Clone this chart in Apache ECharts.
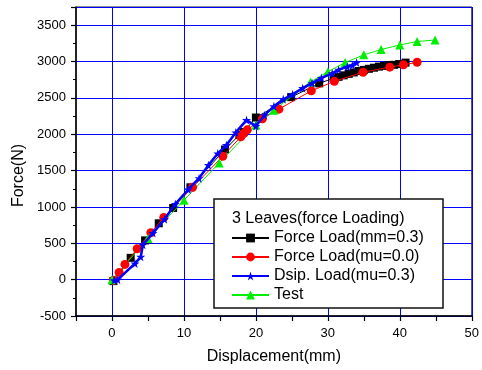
<!DOCTYPE html>
<html>
<head>
<meta charset="utf-8">
<script src="https://cdn.jsdelivr.net/npm/echarts@6/dist/echarts.min.js"></script>
<style>html,body{margin:0;padding:0;background:#fff}#c{width:482px;height:370px}</style>
</head>
<body>
<div id="c"></div>
<script>
const xTitle = 'Displacement(mm)';
const yTitle = 'Force(N)';
const legendTitle = '3 Leaves(force Loading)';
const seriesNames = ['Force Load(mm=0.3)', 'Force Load(mu=0.0)', 'Dsip. Load(mu=0.3)', 'Test'];

const forceLoadMm03 = [
  [0.2,-20],[2.6,300],[4.6,540],[6.5,775],[8.5,985],[10.9,1270],[15.7,1790],[17.7,1990],
  [18.3,2030],[20.0,2230],[24.9,2510],[28.8,2700],[30.8,2770],[31.5,2790],[32.2,2810],
  [32.9,2830],[33.6,2850],[34.3,2870],[35.0,2885],[35.7,2900],[36.4,2915],[37.1,2930],
  [37.8,2940],[38.5,2950],[39.2,2955],[39.9,2965],[40.8,2985]
];
const forceLoadMu00 = [
  [0.2,-10],[1.0,100],[1.8,210],[3.5,425],[5.4,645],[7.2,855],[11.2,1270],[15.4,1697],
  [17.9,1965],[18.3,2010],[18.8,2060],[20.9,2212],[23.2,2345],[27.7,2597],[30.9,2728],
  [34.9,2853],[38.6,2923],[40.5,2955],[42.4,2990]
];
const dsipLoadMu03 = [
  [0.3,-10],[0.8,0],[3.2,222],[4.0,314],[4.3,480],[5.7,640],[7.3,830],[8.8,1040],[10.6,1240],
  [12.1,1395],[13.4,1575],[14.7,1735],[15.9,1850],[17.2,2025],[18.7,2195],[20.0,2112],
  [21.2,2262],[22.5,2384],[23.8,2480],[25.1,2548],[26.5,2634],[27.8,2702],[29.1,2774],
  [30.6,2838],[31.5,2888],[32.7,2928],[33.4,2950],[34.0,2985]
];
const testData = [
  [0,0],[5.0,565],[10,1092],[14.9,1605],[20,2126],[22.5,2330],[27.6,2720],[30.0,2860],
  [32.4,2985],[35.0,3092],[37.4,3165],[40.0,3228],[42.4,3275],[44.9,3296]
];

const FONT = 'Liberation Sans, Arial, sans-serif';
const STAR = 'path://M50,0 L61,35 L98,35 L68,57 L79,91 L50,70 L21,91 L32,57 L2,35 L39,35 Z';

const chart = echarts.init(document.getElementById('c'), null, {renderer: 'canvas'});
chart.setOption({
  animation: false,
  backgroundColor: '#fff',
  textStyle: {fontFamily: FONT},
  grid: {left: 76, right: 9, top: 7, bottom: 53, show: true, borderColor: '#222', borderWidth: 1, backgroundColor: 'transparent'},
  xAxis: {
    type: 'value', min: -5, max: 50, interval: 5,
    axisLine: {onZero: false, lineStyle: {color: '#000', width: 1.5}},
    axisTick: {show: true, length: 5, lineStyle: {color: '#000', width: 1.2}},
    axisLabel: {color: '#000', fontSize: 13, fontFamily: FONT, margin: 11,
      formatter: v => (v % 10 === 0 ? String(v) : '')},
    splitLine: {show: true, lineStyle: {color: ['rgba(0,0,0,0)', '#0000ff'], width: 1}},
    name: xTitle, nameLocation: 'middle', nameGap: 33,
    nameTextStyle: {color: '#000', fontSize: 16, fontFamily: FONT}
  },
  yAxis: {
    type: 'value', min: -500, max: 3750, interval: 500,
    axisLine: {onZero: false, lineStyle: {color: '#000', width: 1.5}},
    axisTick: {show: true, length: 5, lineStyle: {color: '#000', width: 1.2}},
    minorTick: {show: true, splitNumber: 2, length: 3, lineStyle: {color: '#000', width: 1}},
    axisLabel: {color: '#000', fontSize: 13, fontFamily: FONT, margin: 10, showMaxLabel: false,
      formatter: v => String(v)},
    splitLine: {show: true, lineStyle: {color: '#0000ff', width: 1}},
    name: yTitle, nameLocation: 'middle', nameGap: 44, nameRotate: 90,
    nameTextStyle: {color: '#000', fontSize: 16, fontFamily: FONT, padding: [0, 28, 0, 0]}
  },
  graphic: [
    {type: 'rect', z: 3, shape: {x: 214, y: 199, width: 229, height: 109},
      style: {fill: '#fff', stroke: '#111', lineWidth: 1.5}},
    {type: 'text', z: 5, x: 232, y: 219,
      style: {text: legendTitle, fill: '#000', font: '16px ' + FONT, textVerticalAlign: 'middle'}}
  ],
  legend: {
    z: 6, orient: 'vertical', left: 231, top: 230, padding: 0,
    itemWidth: 37, itemHeight: 11, itemGap: 3,
    textStyle: {color: '#000', fontSize: 16, fontFamily: FONT},
    data: seriesNames
  },
  series: [
    {name: seriesNames[0], type: 'line', data: forceLoadMm03, z: 2,
      symbol: 'rect', symbolSize: 8,
      lineStyle: {color: '#000', width: 1}, itemStyle: {color: '#000'}},
    {name: seriesNames[1], type: 'line', data: forceLoadMu00, z: 3,
      symbol: 'circle', symbolSize: 9,
      lineStyle: {color: '#ff0000', width: 1}, itemStyle: {color: '#ff0000'}},
    {name: seriesNames[3], type: 'line', data: testData, z: 3,
      symbol: 'triangle', symbolSize: 9,
      lineStyle: {color: '#00ee00', width: 1}, itemStyle: {color: '#00ee00'}},
    {name: seriesNames[2], type: 'line', data: dsipLoadMu03, z: 4,
      symbol: STAR, symbolSize: 9,
      lineStyle: {color: '#0000ff', width: 2.5}, itemStyle: {color: '#0000ff'}}
  ]
});
</script>
</body>
</html>
